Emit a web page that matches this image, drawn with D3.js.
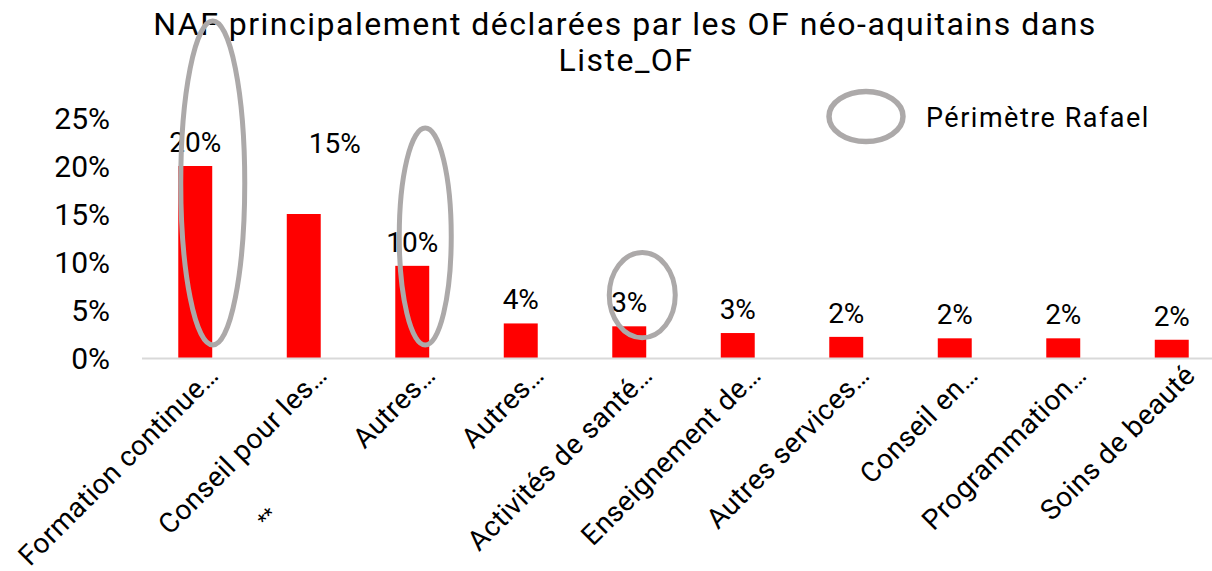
<!DOCTYPE html>
<html><head><meta charset="utf-8">
<script src="https://cdn.jsdelivr.net/npm/d3@7"></script>
<style>
html,body{margin:0;padding:0;background:#fff;}
svg text{font-family:Roboto,"Liberation Sans",sans-serif;fill:#000;}
</style></head>
<body>
<svg id="chart" width="1212" height="571"></svg>
<script>
const categories = ["Formation continue…","Conseil pour les…","Autres…","Autres…","Activités de santé…","Enseignement de…","Autres services…","Conseil en…","Programmation…","Soins de beauté"];
const values = [0.200, 0.150, 0.096, 0.036, 0.033, 0.026, 0.022, 0.0205, 0.0205, 0.019];
const valueLabels = ["20%","15%","10%","4%","3%","3%","2%","2%","2%","2%"];
const yTicks = [0, 0.05, 0.10, 0.15, 0.20, 0.25];
const titleLines = ["NAF principalement déclarées par les OF néo-aquitains dans","Liste_OF"];
const legendLabel = "Périmètre Rafael";
// highlighted categories (Périmètre Rafael) with the value span of each ring
const ringCats = [0, 2, 4];
const ringTop = [0.351, 0.2396, 0.110];
const ringBottom = [0.0135, 0.0135, 0.021];

const svg = d3.select("#chart");
const x = d3.scaleBand().domain(d3.range(categories.length)).range([141, 1226]).paddingInner(0.687).paddingOuter(0.3435);
const y = d3.scaleLinear().domain([0, 0.25]).range([358, 118]);
const ringColor = "#aca9a9";

// title
svg.append("text").attr("x", 625).attr("y", 35).attr("text-anchor","middle").attr("font-size",32).attr("letter-spacing",1.5).text(titleLines[0]);
svg.append("text").attr("x", 626).attr("y", 71).attr("text-anchor","middle").attr("font-size",32).attr("letter-spacing",1.5).text(titleLines[1]);

// y axis labels
const yAxis = d3.axisLeft(y).tickValues(yTicks).tickFormat(d3.format(".0%")).tickSize(0).tickPadding(0);
const yg = svg.append("g").attr("transform","translate(110,0)").call(yAxis);
yg.select(".domain").remove();
yg.selectAll("text").attr("font-size",30).attr("font-family","Roboto").attr("fill","#000").attr("dy","0.36em");

// bars
svg.append("g").selectAll("rect").data(values).join("rect")
  .attr("x",(d,i)=>x(i)).attr("width",x.bandwidth())
  .attr("y",d=>y(d)).attr("height",d=>y(0)-y(d)).attr("fill","#ff0000");

// x axis line
svg.append("line").attr("x1",142).attr("x2",1212).attr("y1",y(0)+0.5).attr("y2",y(0)+0.5).attr("stroke","#d9d9d9").attr("stroke-width",2);

// data labels
svg.append("g").selectAll("text").data(values).join("text")
  .attr("x",(d,i)=> i===1 ? x(i)+x.bandwidth()/2+31 : x(i)+x.bandwidth()/2)
  .attr("y",(d,i)=> i===1 ? y(0.2135) : y(d)-14)
  .attr("text-anchor","middle").attr("font-size",28).text((d,i)=>valueLabels[i]);

// category labels
svg.append("g").selectAll("text").data(categories).join("text")
  .attr("transform",(d,i)=>`translate(${x(i)+x.bandwidth()/2+25},377) rotate(-45)`)
  .attr("text-anchor","end").attr("font-size",28).attr("letter-spacing",0.4).text(d=>d);

svg.append("text").attr("transform",`translate(${x(1)+x.bandwidth()/2-32},522) rotate(-45)`)
  .attr("text-anchor","middle").attr("font-size",20).text("**");

// rings
const ringDx = [17.5, 13, 13];
const ringRx = [32, 26, 33];
svg.append("g").selectAll("ellipse").data(ringCats).join("ellipse")
  .attr("cx",(c,k)=>x(c)+x.bandwidth()/2+ringDx[k])
  .attr("cy",(c,k)=>(y(ringTop[k])+y(ringBottom[k]))/2)
  .attr("rx",(c,k)=>ringRx[k])
  .attr("ry",(c,k)=>(y(ringBottom[k])-y(ringTop[k]))/2)
  .attr("fill","none").attr("stroke",ringColor).attr("stroke-width",5);

// legend
svg.append("ellipse").attr("cx",866).attr("cy",116.5).attr("rx",37).attr("ry",25)
  .attr("fill","none").attr("stroke",ringColor).attr("stroke-width",5.5);
svg.append("text").attr("x",926).attr("y",127).attr("font-size",27).attr("letter-spacing",1.5).text(legendLabel);
</script>
</body></html>
